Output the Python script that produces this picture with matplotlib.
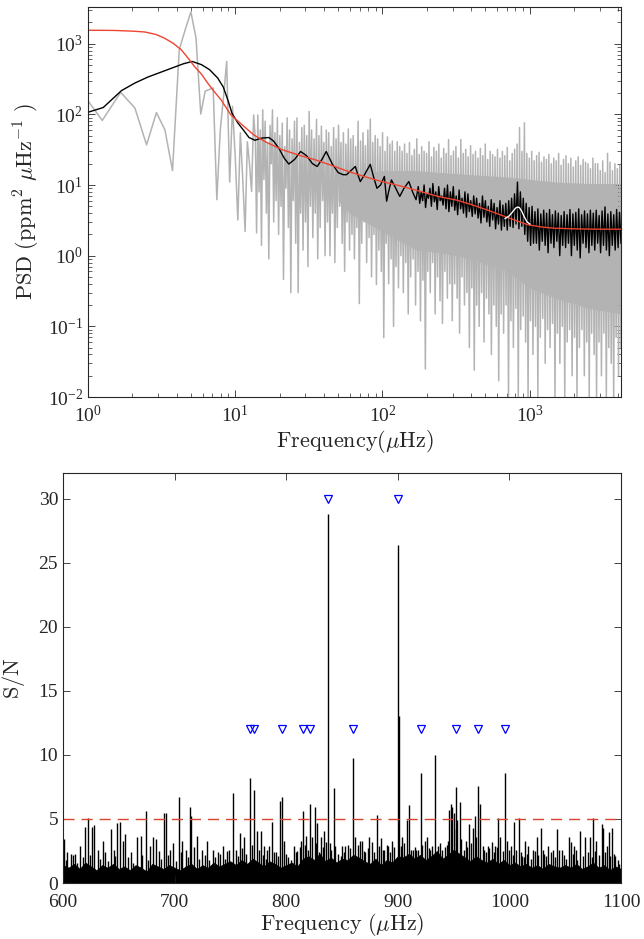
import numpy as np
import matplotlib
matplotlib.use('Agg')
import matplotlib.pyplot as plt
from matplotlib.ticker import LogLocator, NullFormatter, MultipleLocator

# ---------------- top panel data ----------------
BIN = 0.41667  # frequency resolution (muHz)
gray_low_k = np.arange(2, 33)
gray_low_vals = [262, 82, 205, 123, 37, 106, 60, 16, 822, 1600,
                 2810, 1200, 101, 213, 225, 236, 6.2, 60, 180, 560,
                 11, 129, 25, 3.2, 55, 12, 2.2, 41, 20, 8.1, 98]

gray_hi = [45, 98, 60, 116, 80, 40, 70, 116, 55, 90,
           50, 75, 35, 89, 60, 45, 80, 89, 40, 65,
           70, 50, 110, 60, 45, 85, 50, 68, 40, 60,
           55, 35, 65, 45, 70, 40, 55, 38, 62, 45,
           50, 35, 80, 42, 55, 36, 60, 86, 40, 50,
           45, 35, 55, 30, 48, 38, 42, 30, 41, 35,
           30, 38, 28, 40, 26, 32, 45, 27, 35, 30,
           28, 41, 25, 34, 30, 38, 24, 33, 28, 44,
           26, 30, 35, 24, 44, 28, 32, 25, 36, 27,
           30, 24, 33, 26, 38, 23, 30, 27, 25, 32,
           24, 30, 26, 34, 22, 28, 32, 38, 65, 30,
           76, 28, 24, 30, 22, 26, 29, 21, 25, 23,
           27, 20, 24, 22, 28, 19, 23, 26, 20, 24,
           18, 22, 25, 19, 23, 21, 20, 17, 24, 20,
           20, 16, 22, 15, 28, 21, 16, 20, 17, 19]
gray_lo = [2.1, 8, 1.4, 12, 4, 0.9, 20, 3, 6, 2,
           5, 0.46, 9, 2.5, 0.3, 6, 1.5, 0.3, 4, 1.2,
           3, 0.7, 5, 1.8, 4, 0.9, 2.5, 6, 1.0, 3,
           1.0, 4, 0.8, 2.5, 5, 1.5, 0.6, 3, 1.2, 2,
           0.9, 2.5, 0.21, 1.5, 3, 0.8, 1.8, 0.5, 2, 0.39,
           1.2, 0.6, 0.069, 1.5, 0.4, 0.9, 0.1, 0.7, 0.35, 1.0,
           0.3, 0.8, 0.15, 0.5, 0.9, 0.2, 0.6, 0.12, 0.45, 0.025,
           0.6, 0.3, 0.8, 0.15, 0.5, 0.23, 0.11, 0.6, 0.25, 0.4,
           0.12, 0.4, 0.25, 0.08, 0.5, 0.2, 0.3, 0.05, 0.35, 0.024,
           0.2, 0.1, 0.3, 0.06, 0.25, 0.15, 0.04, 0.2, 0.1, 0.017,
           0.15, 0.08, 0.2, 0.01, 0.12, 0.05, 0.18, 0.01, 0.09, 0.14,
           0.06, 0.01, 0.12, 0.04, 0.1, 0.01, 0.07, 0.13, 0.03, 0.09,
           0.05, 0.11, 0.01, 0.08, 0.03, 0.1, 0.01, 0.06, 0.09, 0.02,
           0.07, 0.01, 0.05, 0.09, 0.02, 0.06, 0.01, 0.08, 0.04, 0.01,
           0.06, 0.02, 0.08, 0.01, 0.05, 0.03, 0.01, 0.07, 0.02, 0.05]

# solid core of the dense raw spectrum
core_f = [50, 60, 100, 170, 250, 400, 700, 1000, 1500, 2500, 4166]
core_top = [12, 14, 16, 16, 15, 14, 13, 12, 11, 10.5, 10.5]
core_bot = [6, 4, 2.2, 1.2, 1.1, 0.9, 0.6, 0.35, 0.25, 0.18, 0.15]

black_f = [0.9, 1.0, 1.27, 1.69, 2.08, 2.55, 3.1, 3.8, 4.45, 5.1,
           5.9, 6.7, 7.6, 8.3, 8.9, 9.5, 10.4, 11.5, 12.4, 13.6,
           15.0, 16.9, 18.2, 19.8, 21.5, 23.1, 25.3, 27.8, 30.5, 33.5,
           36.0, 38.8, 41.5, 45.5, 50, 54, 57, 61, 65.4, 68,
           70.7, 75.5, 82.6, 87, 91.7, 97, 103, 106.7, 110, 115,
           123, 131, 140, 151, 160, 169]
black_p = [103, 107, 125, 217, 277, 337, 392, 460, 520, 560,
           505, 428, 327, 243, 161, 104, 76, 58, 47, 43,
           46, 47, 42, 33, 24, 19.8, 23, 29.8, 26, 20,
           18.3, 23, 29.8, 20, 15, 14, 14, 16, 18.3, 14,
           11.2, 14, 19.6, 13, 9, 10, 13.2, 5.9, 8, 11.8,
           9, 6.9, 9, 11.2, 8, 6.2]
black_hi = [9.5, 8, 10, 7.5, 9, 10.5, 8, 9.5, 7, 9,
            10, 8, 9.5, 7, 8.5, 6.5, 8, 7.5, 6, 7,
            6.5, 5.5, 7, 6, 5, 6.2, 5.5, 4.8, 6, 5.2,
            5.5, 6, 6.5, 7.5, 11.0, 8, 6.5, 5.5, 4.8, 5,
            4.2, 4.6, 3.9, 4.4, 4.0, 4.5, 3.8, 4.3, 4.0, 3.7,
            4.2, 3.8, 4.5, 3.9, 4.1, 4.6, 3.8, 4.3, 3.9, 4.4,
            4.0, 4.4, 3.7, 4.3, 4.9, 3.9, 4.2, 3.8, 4.5, 4.1]
black_lo = [5.5, 6, 4.8, 6.5, 5, 5.8, 4.5, 6, 5.2, 4.6,
            4.2, 5, 4.4, 3.8, 4.6, 4.0, 3.5, 4.2, 3.6, 3.9,
            3.4, 2.9, 3.5, 3.0, 2.6, 3.2, 2.4, 2.8, 2.3, 2.6,
            2.3, 2.6, 2.5, 2.8, 2.4, 2.6, 2.0, 1.6, 1.4, 1.5,
            1.5, 1.2, 1.6, 1.4, 1.1, 1.5, 1.3, 1.6, 1.0, 1.4,
            1.3, 1.5, 1.0, 1.4, 1.2, 0.93, 1.5, 1.3, 1.1, 1.4,
            1.2, 1.5, 1.1, 1.4, 1.2, 1.0, 1.4, 1.2, 1.3, 1.5]

red_f = [0.8, 1.0, 1.5, 2.0, 2.43, 2.9, 3.3, 3.8, 4.3, 4.8,
         5.28, 5.9, 6.5, 7.2, 8.0, 9.35, 11.5, 13.4, 16, 20.8,
         27, 35, 45, 58.9, 75, 98.8, 130, 167, 238, 320,
         400, 520, 675, 820, 977, 1200, 1460, 2000, 2500, 3300, 4166]
red_p = [1550, 1550, 1540, 1505, 1465, 1350, 1200, 1010, 820, 620,
         477, 370, 277, 210, 161, 98, 67, 51, 41, 31.6,
         26.5, 22.7, 19, 15.5, 13.2, 11.2, 9.8, 8.5, 6.9, 6.1,
         5.3, 4.4, 3.6, 3.1, 2.73, 2.55, 2.45, 2.4, 2.38, 2.37, 2.37]

white_f = [680, 720, 760, 800, 826, 850, 880, 920, 960, 1002]
white_p = [3.35, 3.6, 4.1, 4.7, 4.87, 4.8, 4.3, 3.5, 3.0, 2.8]

# ---------------- bottom panel data ----------------
spike_f = [601, 604, 607, 609, 615, 620, 622.4, 626, 628, 631, 636, 642.7, 645.7, 648.7,
           651, 654, 656, 661, 666, 669.6, 674.4, 678, 680.6, 683, 690.5, 692, 696, 699,
           704, 707, 710, 713.8, 715, 720, 725, 729, 734, 739, 743, 747, 752, 755, 758.6,
           762, 767.2, 771.4, 774, 777, 780, 783, 785, 787.6, 791, 794.4, 795.9, 798, 802,
           807, 810, 813, 815, 818, 821, 823, 825.8, 828, 831, 834, 837.2, 839.5, 842.5,
           847, 850, 853, 860.2, 862, 866, 868, 871, 874.6, 877, 881.4, 885, 888, 891, 895,
           899.9, 901, 904, 908.2, 910, 914, 916, 918, 920.8, 924, 926, 929, 933.6, 936,
           938, 940, 945, 946.2, 947.4, 949, 950, 951.8, 953, 955.7, 959, 961, 964, 967,
           969, 971.8, 974, 977, 981, 984, 987, 990, 992, 996, 998, 1001, 1004.4, 1006,
           1008.9, 1011, 1014, 1017, 1021, 1024.4, 1028.3, 1031, 1035, 1039, 1042.6, 1047,
           1053.8, 1055, 1058, 1061, 1063.3, 1068, 1072, 1075.2, 1078, 1082.7, 1084, 1087,
           1089, 1092, 1095, 1098]
spike_h = [3.4, 2.4, 2.3, 2.2, 2.9, 4.4, 5.1, 4.4, 4.5, 2.6, 3.3, 4.2, 2.6, 4.65,
           4.8, 3.3, 3.8, 2.4, 3.6, 3.7, 5.6, 2.9, 3.6, 3.4, 5.5, 5.5, 2.6, 3.1,
           6.7, 3.3, 2.6, 5.9, 5.2, 3.7, 2.6, 3.3, 2.6, 2.4, 2.9, 2.5, 7.0, 2.6, 3.9,
           3.6, 8.2, 7.3, 4.1, 4.1, 2.9, 2.6, 2.9, 4.8, 2.4, 6.4, 6.7, 3.3, 2.0,
           2.9, 2.5, 3.3, 5.6, 3.7, 6.2, 3.6, 5.9, 4.7, 3.6, 4.1, 28.8, 3.1, 7.45,
           1.6, 2.9, 2.9, 9.77, 3.6, 3.3, 3.3, 2.4, 3.6, 3.2, 5.3, 3.5, 2.6, 2.9, 3.3,
           26.4, 13.0, 3.6, 4.9, 6.1, 2.6, 2.6, 2.6, 8.6, 3.3, 3.6, 2.6, 10.0, 2.9,
           3.1, 2.6, 3.3, 5.7, 6.2, 5.9, 5.5, 7.5, 4.9, 6.3, 2.6, 3.3, 4.6, 4.3,
           5.2, 7.6, 6.2, 2.6, 2.9, 3.2, 2.9, 5.05, 3.6, 8.55, 3.3, 2.9, 4.8, 2.6,
           5.1, 2.1, 3.3, 2.9, 2.6, 3.6, 4.3, 2.3, 2.9, 2.6, 4.2, 2.6,
           3.6, 3.2, 2.9, 1.8, 4.1, 3.6, 3.6, 5.1, 3.3, 4.6, 4.3, 2.9,
           4.0, 4.3, 2.1, 1.5]

minor_f = [602.5, 611, 613, 618, 624, 633, 638, 640, 647, 658, 663, 671, 676, 686, 688,
           694, 701, 705.5, 712, 717, 722, 727, 731, 736, 741, 745, 749, 757, 760, 764,
           769, 776, 779, 782, 789, 793, 800, 804, 809, 812, 817, 819.5, 827, 829.5, 833,
           836, 840.5, 844, 846, 849, 852, 855, 857, 864, 869.5, 873, 879, 883, 887, 890,
           893, 897, 902.5, 906, 912, 915, 922, 928, 931, 935, 942, 944, 952.5, 957, 962,
           966, 970, 976, 979, 982, 986, 989, 994, 1000, 1003, 1010, 1013, 1016, 1019,
           1023, 1026, 1030, 1033, 1037, 1041, 1044, 1049, 1051, 1057, 1060, 1066, 1070,
           1074, 1077, 1080, 1086, 1090, 1094, 1097]
minor_h = [1.8, 2.3, 1.6, 2.0, 2.2, 1.9, 2.4, 1.7, 2.1, 2.0, 1.6, 2.2, 1.8, 2.5, 1.9,
           2.2, 1.7, 2.4, 2.0, 2.8, 1.9, 2.2, 1.8, 2.0, 2.3, 1.9, 2.6, 2.1, 2.7, 2.3,
           3.0, 2.6, 2.2, 1.9, 2.4, 2.1, 2.3, 1.8, 2.4, 2.8, 3.0, 2.6, 3.1, 2.4, 2.8,
           3.2, 2.6, 2.9, 2.3, 2.1, 2.4, 3.0, 2.7, 3.0, 2.5, 2.7, 2.4, 2.9, 2.6, 3.0,
           2.4, 2.8, 2.9, 3.1, 2.6, 2.8, 3.0, 2.7, 2.9, 2.4, 2.8, 3.0, 4.2, 3.4, 2.8,
           3.1, 3.6, 2.9, 2.4, 2.7, 2.4, 2.8, 2.5, 2.6, 2.2, 2.4, 2.0, 2.3, 1.9,
           2.5, 2.2, 2.6, 2.1, 2.4, 2.0, 2.6, 2.2, 1.9, 2.3, 2.6, 2.1, 2.4,
           2.0, 2.5, 2.2, 2.4, 2.1, 2.3, 1.8]

floor_f = np.arange(600, 1101, 5)
floor_v = [1.4, 1.2, 1.5, 1.1, 1.6, 1.3, 1.0, 1.4, 1.2, 1.5, 1.1,
           1.3, 1.0, 1.4, 1.2, 0.9, 1.5, 1.3, 1.1, 1.4, 1.2,
           1.0, 1.3, 1.5, 1.1, 1.4, 1.2, 1.6, 1.3, 1.5, 1.7,
           1.4, 1.8, 1.5, 1.9, 1.6, 1.3, 1.7, 1.5, 1.2, 1.4,
           1.6, 1.3, 1.9, 2.1, 1.8, 2.3, 1.7, 2.0, 1.6, 1.9,
           1.8, 2.2, 2.0, 1.7, 1.5, 1.9, 1.4, 1.8, 1.6, 2.1,
           2.0, 2.3, 1.9, 2.2, 1.8, 2.1, 2.5, 1.9, 2.2, 2.6,
           2.3, 2.0, 1.7, 2.1, 1.8, 1.6, 1.9, 1.5, 1.8, 1.4,
           1.6, 1.3, 1.5, 1.2, 1.4, 1.1, 1.5, 1.3, 1.2, 1.4,
           1.2, 1.5, 1.1, 1.3, 1.6, 1.2, 1.4, 1.0, 1.3, 1.1]

mode_hi_f = [837.2, 899.9]
mode_hi_y = [30, 30]
mode_lo_f = [767.2, 771.4, 795.9, 815.0, 821.0, 860.2, 920.8, 951.8, 971.8, 996.0]
mode_lo_y = [12] * len(mode_lo_f)
threshold = 5

# ---------------- figure ----------------
plt.rcParams['font.family'] = ['Liberation Serif', 'DejaVu Serif']
plt.rcParams['mathtext.fontset'] = 'cm'
plt.rcParams['axes.linewidth'] = 0.8
TXT = '#262626'
GRAY = '#b3b3b3'

fig = plt.figure(figsize=(6.44, 9.39), dpi=100)

ax1 = fig.add_axes([0.1366, 0.5772, 0.8277, 0.4153])
ax1.fill_between(core_f, core_bot, core_top, color=GRAY, lw=0)
gx = np.concatenate([gray_low_k * BIN, np.geomspace(13.7, 4166, 2 * len(gray_hi))])
gy = np.concatenate([gray_low_vals, np.column_stack([gray_hi, gray_lo]).ravel()])
ax1.plot(gx, gy, color=GRAY, lw=1.1)
bx = np.concatenate([black_f, np.geomspace(175, 4166, 2 * len(black_hi))])
by = np.concatenate([black_p, np.column_stack([black_hi, black_lo]).ravel()])
ax1.plot(bx, by, color='k', lw=1.0)
ax1.plot(red_f, red_p, color='#ee4430', lw=1.0)
ax1.plot(white_f, white_p, color='white', lw=1.0)
ax1.set_xscale('log')
ax1.set_yscale('log')
ax1.set_xlim(1, 4166)
ax1.set_ylim(0.01, 3300)
ax1.xaxis.set_major_locator(LogLocator(base=10, numticks=10))
ax1.xaxis.set_minor_locator(LogLocator(base=10, subs=np.arange(2, 10), numticks=20))
ax1.yaxis.set_major_locator(LogLocator(base=10, numticks=10))
ax1.yaxis.set_minor_locator(LogLocator(base=10, subs=np.arange(2, 10), numticks=20))
ax1.xaxis.set_minor_formatter(NullFormatter())
ax1.yaxis.set_minor_formatter(NullFormatter())
ax1.tick_params(which='both', direction='in', top=True, right=True, colors=TXT,
                labelsize=14)
ax1.tick_params(axis='x', which='major', pad=6)
ax1.tick_params(which='major', length=5, width=0.6)
ax1.tick_params(which='minor', length=3, width=0.5)
ax1.set_xlabel(r'$\mathrm{Frequency}(\mu\mathrm{Hz})$', fontsize=16, color=TXT, labelpad=1)
ax1.set_ylabel(r'$\mathrm{PSD}\ (\mathrm{ppm}^2\ \mu\mathrm{Hz}^{-1}\ )$', fontsize=16,
               color=TXT, labelpad=4)
for s in ax1.spines.values():
    s.set_color(TXT)

ax2 = fig.add_axes([0.0978, 0.0596, 0.8665, 0.4366])
ax2.fill_between(floor_f, 0, floor_v, color='k', lw=0.5)
ax2.vlines(minor_f, 0, minor_h, color='k', lw=1.0)
ax2.vlines(spike_f, 0, spike_h, color='k', lw=1.0)
ax2.axhline(threshold, color='#d9442f', lw=1.0, dashes=(8, 5))
ax2.plot(mode_hi_f, mode_hi_y, 'v', mfc='none', mec='b', ms=6, mew=0.9)
ax2.plot(mode_lo_f, mode_lo_y, 'v', mfc='none', mec='b', ms=6, mew=0.9)
ax2.set_xlim(600, 1100)
ax2.set_ylim(0, 32)
ax2.xaxis.set_major_locator(MultipleLocator(100))
ax2.yaxis.set_major_locator(MultipleLocator(5))
ax2.tick_params(which='both', direction='in', top=True, right=True, colors=TXT,
                labelsize=14, length=5, width=0.6)
ax2.tick_params(axis='x', pad=8)
ax2.set_xlabel(r'$\mathrm{Frequency}\ (\mu\mathrm{Hz})$', fontsize=16, color=TXT, labelpad=0)
ax2.set_ylabel(r'$\mathrm{S/N}$', fontsize=16, color=TXT, labelpad=8)
for s in ax2.spines.values():
    s.set_color(TXT)

fig.savefig('out.png', dpi=100)
